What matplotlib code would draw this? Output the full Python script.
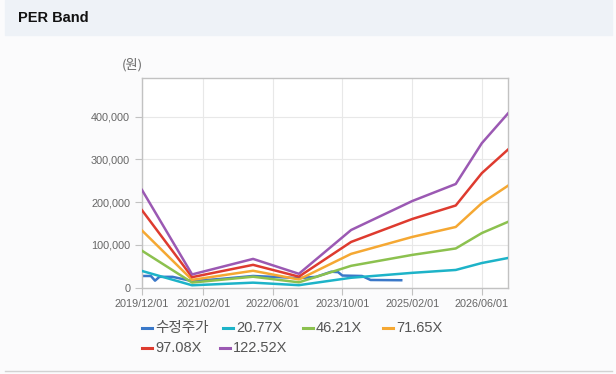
import matplotlib
matplotlib.use('Agg')
import matplotlib.pyplot as plt
import matplotlib.dates as mdates
from matplotlib.lines import Line2D
from matplotlib.patches import Rectangle
from matplotlib.ticker import FuncFormatter
import numpy as np
from datetime import datetime

# EPS path (values = EPS x PER multiple)
band_dates = ['2019-12-01', '2020-11-15', '2022-01-15', '2022-12-01',
              '2023-12-01', '2025-02-01', '2025-12-01', '2026-06-01',
              '2026-12-01']
eps = [1865, 250, 547, 262, 1100, 1655, 1980, 2760, 3330]

per_multiples = [20.77, 46.21, 71.65, 97.08, 122.52]
band_labels = ['20.77X', '46.21X', '71.65X', '97.08X', '122.52X']
band_colors = ['#1db3c8', '#8cc14f', '#f5a833', '#de3b2f', '#9b59b3']

# adjusted share price (수정주가)
price_dates = ['2019-12-01', '2020-02-01', '2020-03-01', '2020-04-01',
               '2020-07-01', '2020-11-15', '2021-06-01', '2022-01-15',
               '2022-06-01', '2022-12-01', '2023-04-01', '2023-07-15',
               '2023-09-01', '2023-10-01', '2024-02-15', '2024-04-15',
               '2024-11-15']
price = [27000, 27000, 16000, 25000, 25000, 15000, 20000, 27000,
         25000, 22000, 25000, 37000, 36000, 28000, 27000, 17600, 17000]
price_label = '수정주가'
price_color = '#3a78c9'

xtick_dates = ['2019-12-01', '2021-02-01', '2022-06-01', '2023-10-01',
               '2025-02-01', '2026-06-01']
yticks = [0, 100000, 200000, 300000, 400000]

W, H = 616, 374


def fx(x):
    return x / W


def fy(y):
    return 1 - y / H


to_dt = lambda ds: [datetime.strptime(d, '%Y-%m-%d') for d in ds]

fig = plt.figure(figsize=(W / 100, H / 100), dpi=100)
fig.patch.set_facecolor('#fbfbfc')

# header strip
fig.patches.append(Rectangle((fx(5), fy(35)), fx(607), 35 / H,
                             transform=fig.transFigure, color='#eef2f7',
                             zorder=0))
fig.text(fx(18), fy(18), 'PER Band', fontsize=10.5, fontweight='bold',
         family='Liberation Sans', va='center', ha='left', color='#111111')
fig.lines.append(Line2D([fx(5), fx(612)], [fy(371), fy(371)],
                        transform=fig.transFigure, color='#d2d2d2', lw=1))

ax = fig.add_axes([fx(142), fy(287.5), (508 - 142) / W, (287.5 - 78) / H])
ax.set_facecolor('white')

ax.plot(to_dt(price_dates), price, color=price_color, lw=1.8, zorder=2)
bd = to_dt(band_dates)
for i, (m, c) in enumerate(zip(per_multiples, band_colors)):
    ax.plot(bd, np.array(eps) * m, color=c, lw=1.8, zorder=3 + i)

ax.set_xlim(datetime(2019, 12, 1), datetime(2026, 12, 1))
ax.set_ylim(0, 491000)
ax.set_xticks(to_dt(xtick_dates))
ax.xaxis.set_major_formatter(mdates.DateFormatter('%Y/%m/%d'))
ax.set_yticks(yticks)
ax.yaxis.set_major_formatter(FuncFormatter(lambda v, p: f'{int(v):,}'))

ax.grid(True, color='#e8e8e8', lw=0.8)
ax.set_axisbelow(True)
for s in ax.spines.values():
    s.set_color('#c2c2c2')
    s.set_linewidth(1)
ax.tick_params(axis='both', labelsize=7.8, labelcolor='#666666',
               color='#c2c2c2', length=5, width=0.8)
for lab in ax.get_xticklabels() + ax.get_yticklabels():
    lab.set_family('Liberation Sans')

fig.text(fx(122), fy(65), '(원)', fontsize=9.5, color='#666666',
         family=['Noto Sans CJK KR', 'DejaVu Sans'], va='center', ha='left')

# legend, laid out in rows like the source
leg_items = [(price_label, price_color, 142, 328)]
leg_pos = [(223, 328), (303, 328), (383, 328), (142, 348), (220, 348)]
for lab, c, (x, y) in zip(band_labels, band_colors, leg_pos):
    leg_items.append((lab, c, x, y))
for lab, c, x, y in leg_items:
    fig.lines.append(Line2D([fx(x), fx(x + 10)], [fy(y), fy(y)],
                            transform=fig.transFigure, color=c, lw=2.2))
    fig.text(fx(x + 13), fy(y), lab, fontsize=10.5, color='#555555',
             family=['Liberation Sans', 'Noto Sans CJK KR'],
             va='center', ha='left')

fig.savefig('out.png', dpi=100, facecolor=fig.get_facecolor())
